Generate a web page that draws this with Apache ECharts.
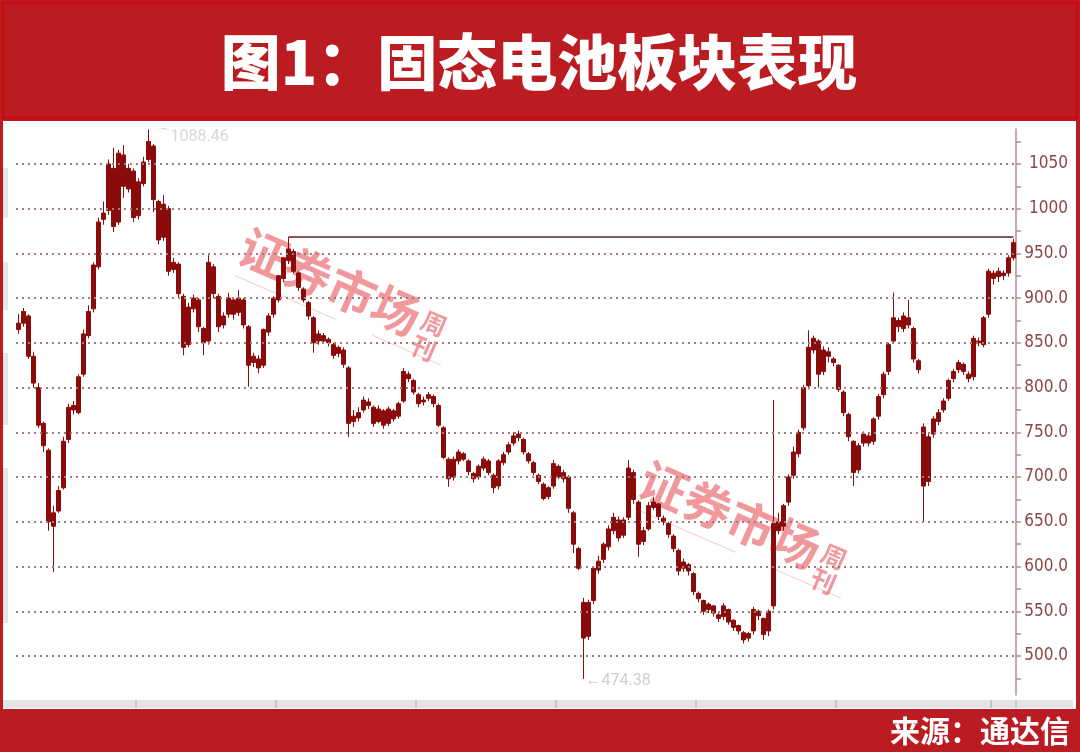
<!DOCTYPE html>
<html><head><meta charset="utf-8">
<script src="https://cdn.jsdelivr.net/npm/echarts@6/dist/echarts.min.js"></script>
<style>html,body{margin:0;padding:0;background:#fff}#c{width:1080px;height:752px}</style>
</head><body><div id="c"></div>
<script>
const titleText = '图1：固态电池板块表现';
const sourceText = '来源：通达信';
const yTickLabels = [500, 550, 600, 650, 700, 750, 800, 850, 900, 950, 1000, 1050];
const yMinorTicks = [475, 500, 525, 550, 575, 600, 625, 650, 675, 700, 725, 750, 775, 800, 825, 850, 875, 900, 925, 950, 975, 1000, 1025, 1050, 1075];
const resistanceLevel = 968.5;
const resistanceStartIdx = 54;
const peakIdx = 26, peakValue = 1088.46;
const troughIdx = 113, troughValue = 474.38;
const monthTickIdx = [24, 52, 80, 108, 136, 164, 195];

const closes = [872,885,835,805,758,735,650,660,685,740,
778,775,812,860,885,937,985,995,1050,980,
1062,1025,1045,990,1030,1052,1075,1010,965,1005,
930,940,905,845,890,900,868,850,940,905,
868,880,900,882,900,870,825,835,822,865,
880,900,925,945,955,930,912,898,880,850,
860,852,850,836,845,826,760,768,772,786,
780,760,776,758,776,765,782,818,810,795,
782,786,792,782,758,722,698,720,728,720,
706,698,712,720,705,688,718,725,736,746,
744,728,718,705,695,676,688,715,700,705,
665,625,598,520,560,598,606,625,642,655,
632,652,710,675,625,640,668,672,656,650,
636,620,595,605,595,572,564,550,558,548,
542,556,538,532,528,518,525,552,545,524,
550,648,650,668,700,728,750,800,845,855,
815,842,835,828,798,772,745,705,735,748,
738,765,790,815,848,878,868,880,870,832,
820,690,745,765,772,785,808,818,828,818,
810,855,850,878,930,922,930,925,945,962];

const opens = [865,872,880,835,800,760,730,645,662,688,
742,780,772,815,858,888,935,988,998,1045,
985,1060,1022,1042,992,1028,1055,1070,1008,968,
1000,932,938,902,848,888,898,866,852,935,
902,870,882,898,884,898,868,828,832,825,
862,882,898,922,942,952,928,910,895,878,
852,858,854,848,838,842,822,762,766,775,
784,778,762,774,760,774,768,785,815,808,
792,784,788,790,780,755,720,700,718,726,
718,704,700,710,718,702,690,716,728,738,
748,742,726,716,702,692,678,690,712,698,
700,660,620,560,522,562,596,608,622,640,
652,635,655,705,672,628,642,666,670,654,
648,634,618,598,602,592,570,562,552,556,
546,544,552,540,534,526,520,528,550,542,
528,556,640,645,672,702,726,755,802,842,
852,818,840,832,825,795,770,740,708,738,
746,740,768,792,818,852,875,866,878,866,
830,756,695,748,762,775,788,810,820,826,
815,812,852,848,882,928,924,928,928,945];

const highs = [882,889,882,840,805,762,732,668,690,745,
782,785,815,865,892,940,990,1008,1055,1068,
1066,1071,1050,1045,1034,1058,1088.46,1072,1010,1015,
1003,945,940,905,895,904,900,868,948,938,
905,884,906,900,909,900,870,839,836,866,
883,902,926,946,968.5,955,930,912,897,880,
864,861,856,850,847,845,824,775,778,790,
788,780,780,776,779,776,784,822,818,810,
794,790,795,792,782,757,722,723,731,728,
720,706,714,723,720,704,720,728,739,750,
752,744,728,718,704,694,690,719,714,708,
702,662,622,565,563,600,612,627,646,660,
656,655,719,708,674,644,672,678,671,657,
650,636,620,609,604,594,572,563,560,557,
548,559,553,541,535,528,527,555,552,543,
552,786,660,670,703,734,753,803,864,858,
854,846,845,834,826,797,772,741,738,751,
749,767,793,818,850,906,878,884,898,868,
832,760,748,768,776,788,810,821,831,828,
818,858,856,880,933,931,934,931,948,966];

const lows = [860,868,832,800,755,728,640,594,660,686,
738,770,770,812,855,884,932,982,993,974,
982,1012,1018,985,988,1025,1052,996,960,964,
925,928,900,836,845,884,862,836,848,900,
862,866,878,876,880,866,801,823,816,822,
858,878,895,918,938,928,908,895,876,839,
848,850,846,832,834,822,745,756,762,772,
776,756,760,754,757,762,765,783,806,792,
778,780,785,778,756,720,689,696,714,718,
702,694,697,707,702,682,686,713,725,735,
740,725,715,702,692,674,675,687,698,694,
660,615,596,474.38,518,558,592,604,618,636,
628,632,652,670,611,624,640,663,652,646,
632,616,590,594,590,568,560,546,548,544,
538,540,535,528,524,514,516,524,540,518,
522,552,636,640,668,698,722,752,798,838,
800,814,828,824,795,768,740,690,704,734,
734,736,764,788,814,850,862,862,866,828,
816,650,690,744,758,772,785,806,816,814,
806,808,846,845,878,915,918,920,924,942];

const categories = closes.map((_, i) => 'D' + (i + 1));
const ohlc = closes.map((c, i) => [opens[i], c, lows[i], highs[i]]);

const chart = echarts.init(document.getElementById('c'), null, {renderer: 'canvas'});
const candleColor = '#8b0a0a';
const gridDots = {type: [2, 4], width: 2, color: '#9e7c7c'};
const wmColor = 'rgba(233,88,96,0.62)';

function watermark(cx, cy) {
  return {
    type: 'group', x: cx, y: cy, rotation: -0.41, silent: true, z: 50,
    children: [
      {type: 'text', style: {text: '证券市场', x: 0, y: 0, align: 'center', verticalAlign: 'middle',
        font: 'bold 48px "Noto Sans CJK SC"', fill: wmColor}},
      {type: 'text', style: {text: '周\n刊', x: 112, y: 10, align: 'center', verticalAlign: 'middle',
        font: 'bold 25px "Noto Sans CJK SC"', lineHeight: 27, fill: wmColor}},
      {type: 'line', shape: {x1: -90, y1: 32, x2: 20, y2: 32}, style: {stroke: 'rgba(233,88,96,0.3)', lineWidth: 1}},
      {type: 'line', shape: {x1: 60, y1: 32, x2: 135, y2: 32}, style: {stroke: 'rgba(233,88,96,0.3)', lineWidth: 1}}
    ]
  };
}

const option = {
  backgroundColor: '#ba1c21',
  animation: false,
  grid: {left: 16, right: 64, top: 129, bottom: 57},
  xAxis: {
    type: 'category', data: categories, boundaryGap: true, offset: 5,
    axisLine: {show: false},
    axisTick: {show: true, length: 8, lineStyle: {color: '#c8c8c8', width: 2},
      interval: (idx) => monthTickIdx.includes(idx)},
    axisLabel: {show: false}, splitLine: {show: false}
  },
  yAxis: [{
    type: 'value', position: 'right', min: 456.4, max: 1089, scale: true,
    axisLine: {show: true, lineStyle: {color: '#b58c8c', width: 1.5}},
    axisTick: {show: true, length: 5, customValues: yMinorTicks, lineStyle: {color: '#b58c8c', width: 1.5}},
    axisLabel: {show: true, customValues: yTickLabels, margin: 52, align: 'right',
      color: '#8c4545', fontSize: 17, fontFamily: '"Liberation Sans Narrow", "Arial Narrow", "DejaVu Sans Condensed", sans-serif',
      formatter: (v) => v >= 1000 ? String(v) : v.toFixed(1)},
    splitLine: {show: false}
  }],
  graphic: [
    {type: 'rect', shape: {x: 3, y: 3, width: 1074, height: 115}, style: {fill: '#ba1c21', stroke: '#c60a10', lineWidth: 3}, z: -10},
    {type: 'rect', shape: {x: 3, y: 121, width: 1073, height: 588}, style: {fill: '#ffffff'}, z: -10},
    {type: 'rect', shape: {x: 3, y: 700, width: 1070, height: 8}, style: {fill: '#e4e4e4'}, z: -9},
    {type: 'rect', shape: {x: 3, y: 168, width: 5, height: 50}, style: {fill: '#e6e6e6'}, z: -9},
    {type: 'rect', shape: {x: 3, y: 262, width: 5, height: 48}, style: {fill: '#e6e6e6'}, z: -9},
    {type: 'rect', shape: {x: 3, y: 353, width: 5, height: 72}, style: {fill: '#e6e6e6'}, z: -9},
    {type: 'rect', shape: {x: 3, y: 468, width: 5, height: 155}, style: {fill: '#e6e6e6'}, z: -9},
    {type: 'text', x: 539, y: 62, style: {text: titleText, align: 'center', verticalAlign: 'middle',
      font: '900 60px "Noto Sans CJK SC"', fill: '#ffffff'}, z: 10},
    {type: 'text', x: 1070, y: 731, style: {text: sourceText, align: 'right', verticalAlign: 'middle',
      font: 'bold 30px "Noto Sans CJK SC"', fill: '#ffffff'}, z: 10},
    watermark(330, 282),
    watermark(730, 515)
  ],
  series: [{
    type: 'candlestick', data: ohlc, barWidth: 4,
    itemStyle: {color: candleColor, color0: candleColor, borderColor: candleColor, borderColor0: candleColor, borderWidth: 1},
    markLine: {
      silent: true, symbol: ['none', 'none'], label: {show: false}, animation: false,
      data: yTickLabels.map(v => ({yAxis: v, lineStyle: gridDots})).concat([[
        {coord: [resistanceStartIdx, resistanceLevel], lineStyle: {type: 'solid', color: '#7d5a5a', width: 2}},
        {coord: [closes.length - 1, resistanceLevel]}
      ]])
    },
    markPoint: {
      silent: true, symbol: 'circle', symbolSize: 0,
      data: [
        {coord: [peakIdx, peakValue], label: {show: true, position: 'right', distance: 4, offset: [2, 8],
          formatter: '⌒' + peakValue.toFixed(2), color: '#d8d8d8', fontSize: 16, fontFamily: 'Roboto, sans-serif'}},
        {coord: [troughIdx, troughValue], label: {show: true, position: 'right', distance: 2, offset: [0, 2],
          formatter: '←' + troughValue.toFixed(2), color: '#cfcfcf', fontSize: 16, fontFamily: 'Roboto, sans-serif'}}
      ]
    }
  }]
};
chart.setOption(option);
</script>
</body></html>
